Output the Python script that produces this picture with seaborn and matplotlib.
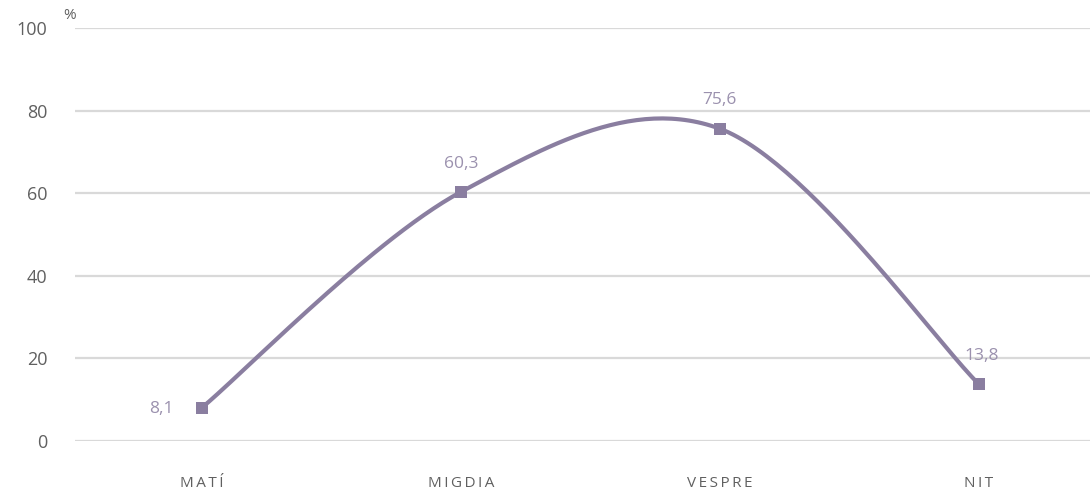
import numpy as np
import pandas as pd
import matplotlib
matplotlib.use("Agg")
import matplotlib.pyplot as plt
import seaborn as sns

# data
categories = ["MATÍ", "MIGDIA", "VESPRE", "NIT"]
values = [8.1, 60.3, 75.6, 13.8]
value_labels = ["8,1", "60,3", "75,6", "13,8"]
y_ticks = [0, 20, 40, 60, 80, 100]

line_color = "#8a7ea0"
label_color = "#9b91ae"
tick_color = "#606060"
grid_color = "#d9d9d9"

sns.set_style("white")
plt.rcParams["font.family"] = ["Open Sans", "DejaVu Sans"]

df = pd.DataFrame({"cat": categories, "x": np.arange(len(categories)), "val": values})


# smoothed line like a spreadsheet "smooth line" (bezier through the points)
def smooth(xs, ys, n=60):
    xs = np.asarray(xs, float)
    ys = np.asarray(ys, float)
    px = np.concatenate([[xs[0]], xs, [xs[-1]]])
    py = np.concatenate([[ys[0]], ys, [ys[-1]]])
    out_x, out_y = [], []
    for i in range(1, len(px) - 2):
        t = np.linspace(0, 1, n)
        p0, p1, p2, p3 = px[i - 1], px[i], px[i + 1], px[i + 2]
        q0, q1, q2, q3 = py[i - 1], py[i], py[i + 1], py[i + 2]
        c1x, c1y = p1 + (p2 - p0) / 6, q1 + (q2 - q0) / 6
        c2x, c2y = p2 - (p3 - p1) / 6, q2 - (q3 - q1) / 6
        bx = (1 - t) ** 3 * p1 + 3 * (1 - t) ** 2 * t * c1x + 3 * (1 - t) * t ** 2 * c2x + t ** 3 * p2
        by = (1 - t) ** 3 * q1 + 3 * (1 - t) ** 2 * t * c1y + 3 * (1 - t) * t ** 2 * c2y + t ** 3 * q2
        out_x.extend(bx)
        out_y.extend(by)
    return np.array(out_x), np.array(out_y)


fig = plt.figure(figsize=(10.9, 4.9), dpi=100)
ax = fig.add_axes([0.069, 0.1, 0.931, 0.843])

sx, sy = smooth(df["x"], df["val"])
sns.lineplot(x=sx, y=sy, ax=ax, color=line_color, linewidth=3, sort=False)
sns.scatterplot(data=df, x="x", y="val", ax=ax, marker="s", s=80, color=line_color,
                edgecolor=line_color, linewidth=0, zorder=5)

# value labels
offsets = [(-29, -1), (0, 20), (0, 21), (2, 20)]
for i, (v, lab) in enumerate(zip(values, value_labels)):
    ax.annotate(lab, (i, v), xytext=offsets[i], textcoords="offset points",
                ha="center", va="center", fontsize=12.5, color=label_color)

ax.set_xlim(-0.49, 3.43)
ax.set_ylim(0, 100)
ax.set_yticks(y_ticks)
ax.set_xticks(df["x"])
# spread letters a little, like the reference
ax.set_xticklabels(["\u2009".join(c) for c in categories])
ax.yaxis.grid(True, color=grid_color, linewidth=1.6)
ax.set_axisbelow(True)
for s in ax.spines.values():
    s.set_visible(False)
ax.tick_params(axis="both", length=0, labelsize=13, colors=tick_color)
ax.tick_params(axis="y", pad=20)
ax.tick_params(axis="x", pad=25)
for t in ax.get_xticklabels():
    t.set_fontsize(11)
ax.set_xlabel("")
ax.set_ylabel("")
ax.text(-0.535, 101.2, "%", fontsize=11, color=tick_color, ha="left", va="bottom")

fig.savefig("out.png", dpi=100)
